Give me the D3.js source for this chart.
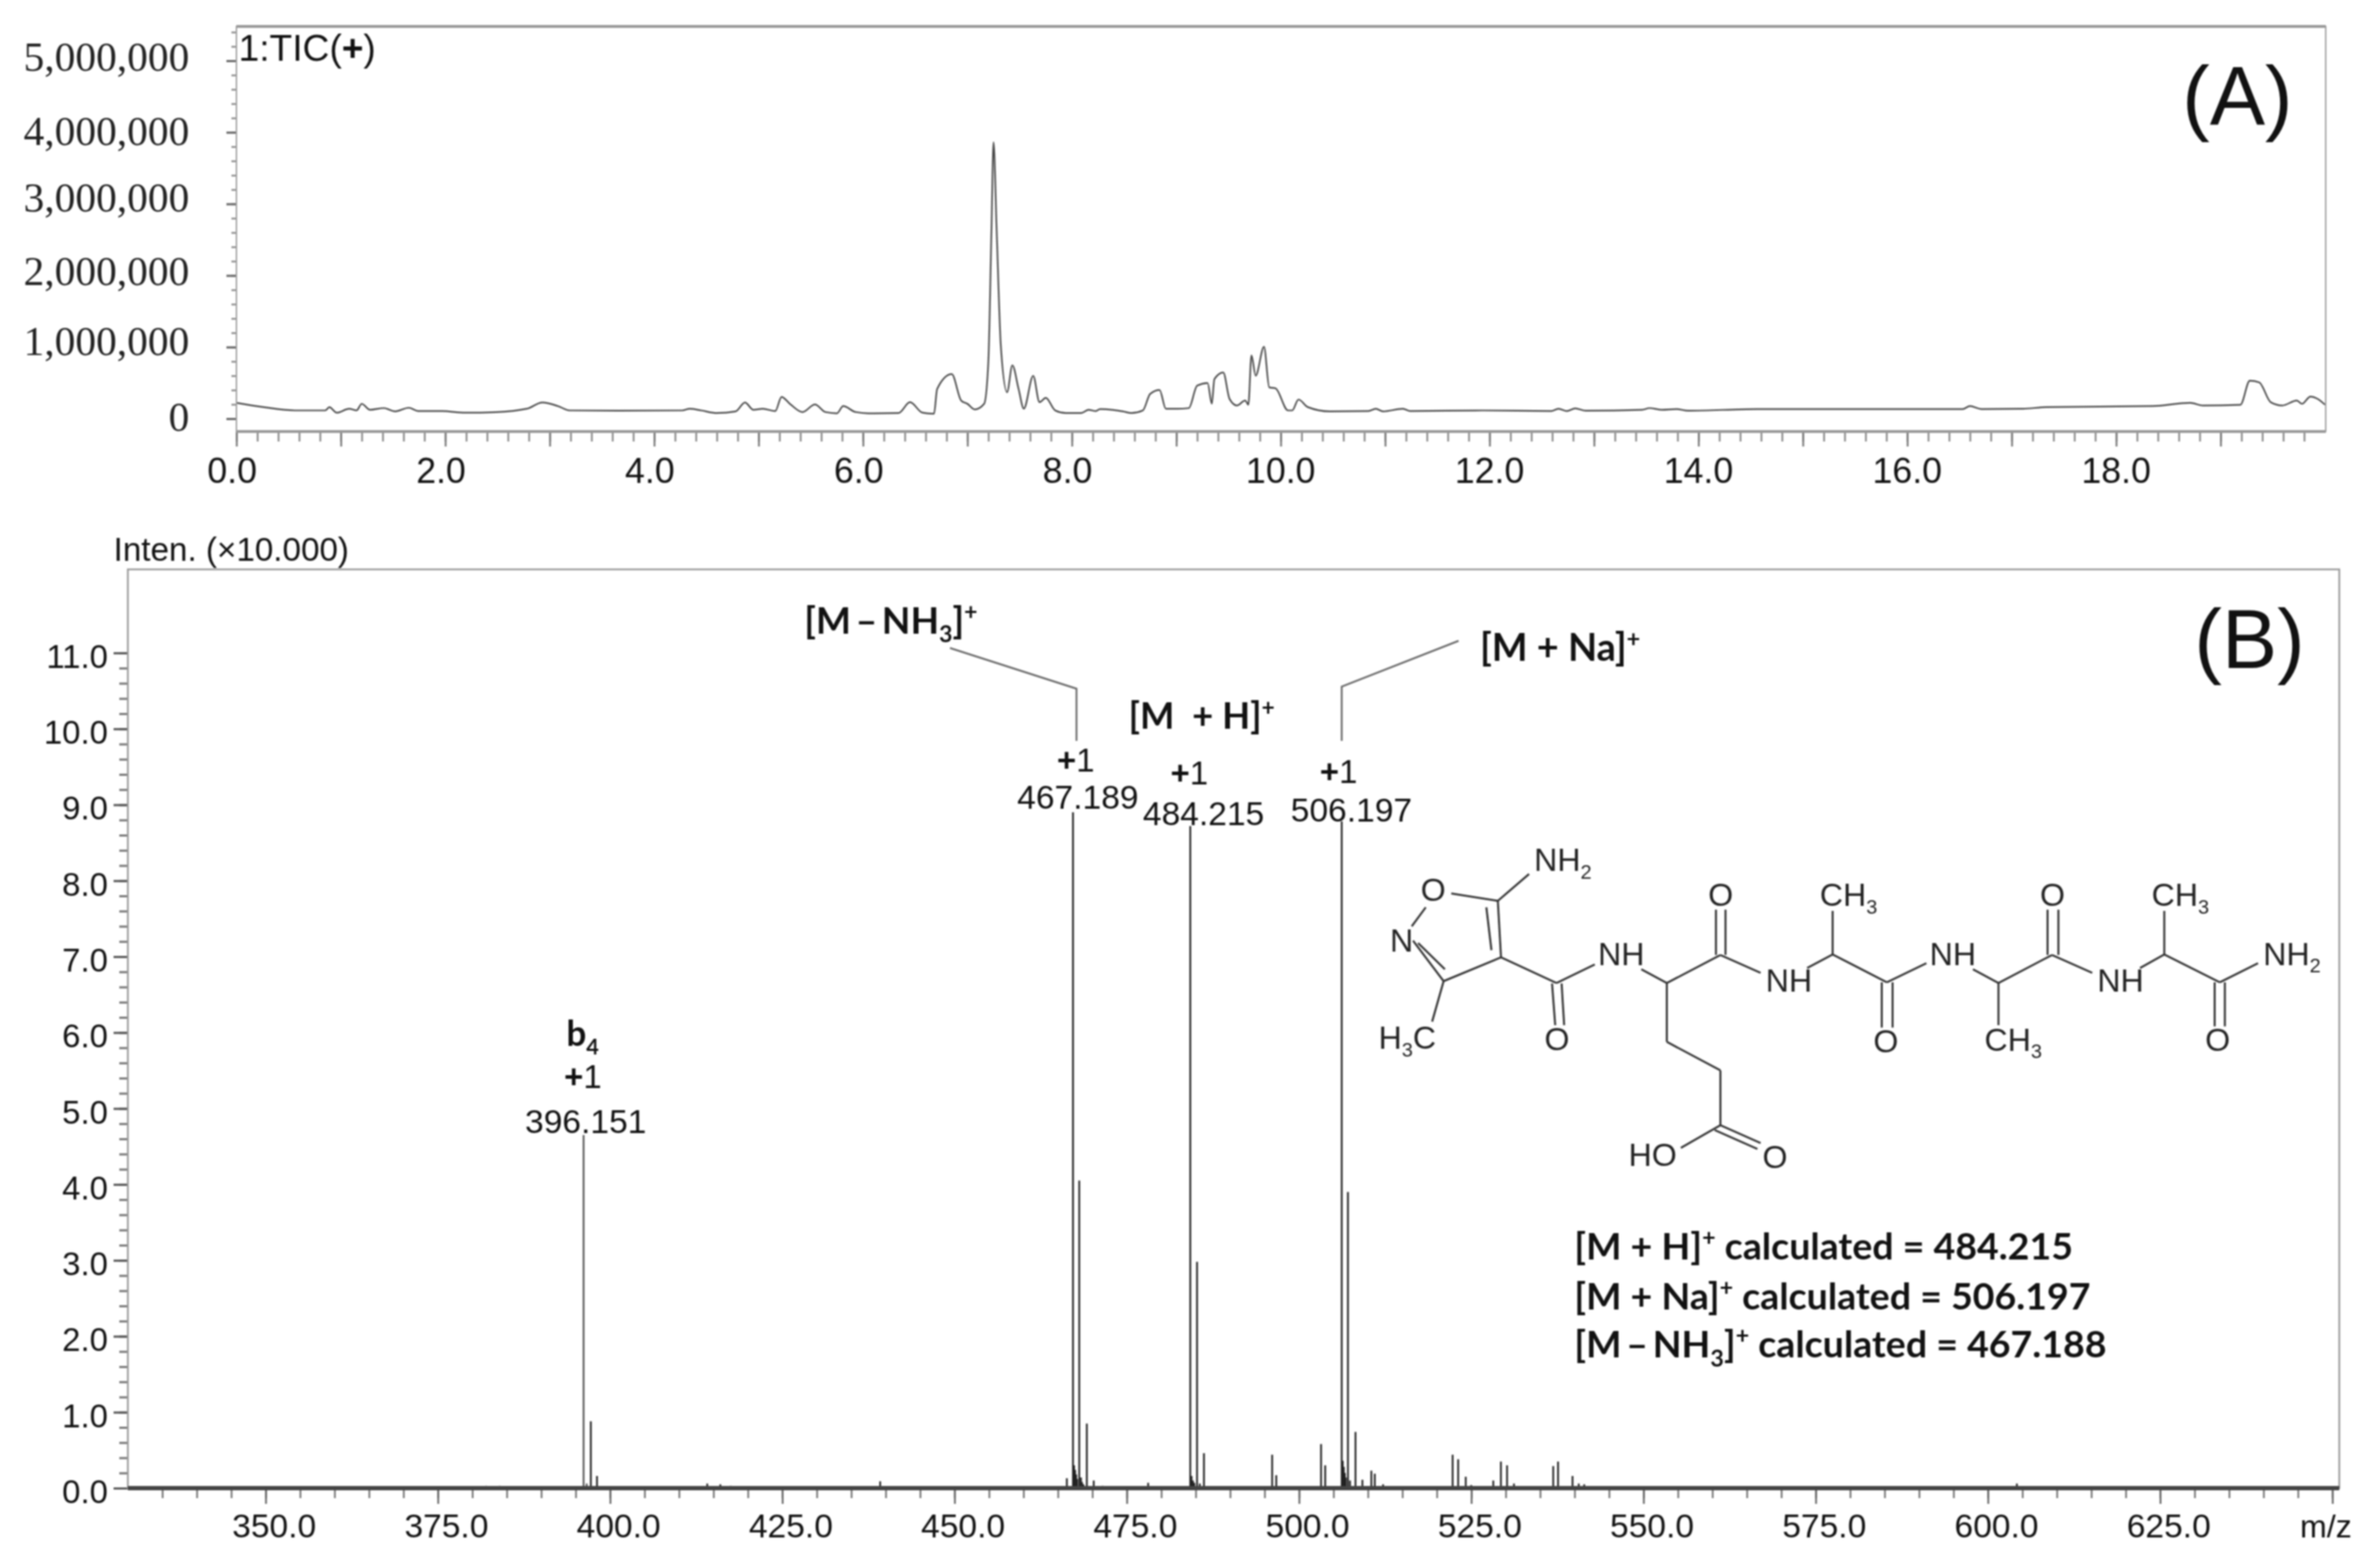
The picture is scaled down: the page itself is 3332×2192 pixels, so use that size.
<!DOCTYPE html>
<html><head><meta charset="utf-8">
<script src="https://cdnjs.cloudflare.com/ajax/libs/d3/7.8.5/d3.min.js"></script>
<style>html,body{margin:0;padding:0;background:#fff}svg{display:block}</style>
</head><body><svg id="c" width="3332" height="2192"></svg>
<script>
// ---- Panel A: total ion chromatogram ----
const ticTime = [0,.26,.56,.85,.89,.96,1.08,1.15,1.2,1.28,1.41,1.52,1.65,1.74,1.97,2.19,2.49,2.78,2.93,3.08,3.19,3.67,4.27,4.34,4.45,4.6,4.78,4.87,4.95,5.04,5.16,5.22,5.3,5.42,5.54,5.64,5.75,5.81,5.93,6.05,6.34,6.45,6.57,6.68,6.71,6.85,6.94,7,7.07,7.16,7.2,7.23,7.25,7.28,7.32,7.38,7.43,7.49,7.54,7.63,7.69,7.75,7.84,7.94,8.09,8.16,8.23,8.27,8.49,8.57,8.68,8.75,8.84,8.9,9.01,9.12,9.2,9.3,9.34,9.365,9.45,9.51,9.58,9.66,9.69,9.72,9.76,9.84,9.89,9.95,10.07,10.11,10.17,10.26,10.47,10.84,10.91,10.98,11.17,11.24,11.93,12.59,12.66,12.74,12.82,12.92,13.46,13.53,13.65,13.79,13.9,14.56,15.65,16.53,16.6,16.71,17.11,17.33,18.35,18.71,18.83,19.19,19.28,19.37,19.48,19.59,19.73,19.78,19.86,19.93,20];
const ticIntensity = [221,161,115,115,161,83,138,115,207,124,147,101,152,106,106,83,92,138,226,175,115,111,115,138,115,78,101,226,124,138,106,304,207,92,198,92,74,175,92,74,78,230,83,69,415,622,253,207,129,207,783,2627,3862,2627,1014,369,746,415,138,599,230,290,115,78,78,124,106,134,101,78,115,346,401,138,138,147,461,498,207,553,645,276,184,253,194,885,599,1005,438,424,115,115,267,161,101,106,138,101,138,106,115,106,138,106,143,111,124,147,124,134,111,134,134,134,175,134,138,161,175,221,184,194,530,507,230,184,253,207,309,276,194]; // thousands of counts
const ticYLabels = [0,1000000,2000000,3000000,4000000,5000000];
const ticYNudge = [0,-6,-4,-6,1,-3];
// ---- Panel B: mass spectrum ----
const peakMz = [396.151,397.2,398.1,396.6,414.1,416,417.5,439.2,466.3,467.189,467.35,467.5,467.65,467.8,468.1,468.35,468.5,468.7,469.2,470.2,471.5,478.1,484.215,484.4,484.6,484.8,485.2,485.6,486.2,496.1,496.7,503.2,503.8,506.197,506.35,506.5,506.65,506.8,507.1,507.4,508.2,509.2,510.5,511,512.2,522.3,523.1,524.2,525,528.2,529.3,530.2,531.2,536.9,537.6,539.7,540.6,541.4,604.2,410,345,384,382,458,462,556,572,592,613];
const peakHeight = [4.65,.88,.16,.06,.06,.05,.03,.09,.13,8.9,.3,.24,.18,.12,4.05,.14,.08,.05,.85,.1,.03,.07,8.72,.16,.1,.07,2.98,.06,.46,.44,.17,.58,.3,8.78,.36,.28,.2,.14,3.9,.1,.74,.11,.23,.19,.05,.44,.38,.15,.04,.1,.35,.3,.06,.29,.35,.16,.06,.05,.06,.02,.02,.03,.03,.02,.02,.02,.02,.02,.02];
const mzTicks = [350,375,400,425,450,475,500,525,550,575,600,625,650];
const mzLabels = ["350.0","375.0","400.0","425.0","450.0","475.0","500.0","525.0","550.0","575.0","600.0","625.0",""];
const intenMax = [0,1,2,3,4,5,6,7,8,9,10,11];

const svg = d3.select("#c");
const SANS = "'Liberation Sans',Arial,sans-serif", SERIF="'Liberation Serif',serif", CAL="Lato,'Open Sans',sans-serif";
const root = svg.append("g").style("filter","blur(0.8px)");
const GREY="#8a8a8a";

function txt(x,y,parts,o={}){
  const t=root.append("text").attr("x",x).attr("y",y)
    .attr("font-family",o.f||SANS).attr("font-size",o.s||47).attr("font-weight",o.w||400)
    .attr("fill",o.c||"#111").attr("text-anchor",o.a||"start");
  const size=o.s||47; let cur=0;
  (Array.isArray(parts)?parts:[parts]).forEach(p=>{
    const [str,kind]=Array.isArray(p)?p:[p,null];
    const target=kind==="sup"?-size*.36:kind==="sub"?size*.24:0;
    const sp=t.append("tspan").attr("dy",target-cur).attr("font-size",(kind==="sup"||kind==="sub")?size*.62:size).text(str);
    if(kind==="bold") sp.attr("font-weight",700);
    cur=target;
  });
  return t;
}

// ======= Panel A =======
const xA=d3.scaleLinear().domain([0,20]).range([331,3255]);
const yA=d3.scaleLinear().domain([-179600,5479000]).range([604,37]);
const styleAxis=(g,c=GREY,w=2.5)=>{g.select(".domain").remove();g.selectAll("line").attr("stroke",c).attr("stroke-width",w);};

root.append("g").attr("transform","translate(0,604)")
  .call(d3.axisBottom(xA).tickValues(d3.range(0,100).map(i=>i*.2).filter(v=>v<=19.999)).tickSize(14).tickFormat(""))
  .call(g=>styleAxis(g));
root.append("g").attr("transform","translate(0,604)")
  .call(d3.axisBottom(xA).tickValues(d3.range(0,20)).tickSize(21).tickFormat(""))
  .call(g=>styleAxis(g,"#777"));
d3.range(0,20,2).forEach(v=>txt(xA(v)+(v<10?-6:0),676,v.toFixed(1),{s:50,a:"middle"}));

root.append("g").attr("transform","translate(331,0)")
  .call(d3.axisLeft(yA).tickValues(d3.range(0,28).map(i=>i*200000)).tickSize(7).tickFormat(""))
  .call(g=>styleAxis(g));
root.append("g").attr("transform","translate(331,0)")
  .call(d3.axisLeft(yA).tickValues(ticYLabels).tickSize(14).tickFormat(""))
  .call(g=>styleAxis(g,"#666",3));
ticYLabels.forEach((v,i)=>txt(265,yA(v)+17+ticYNudge[i],d3.format(",")(v),{f:SERIF,s:58,a:"end",c:"#222"}));

const lineA=d3.line().x(d=>xA(d.t)).y(d=>yA(d.v*1000)).curve(d3.curveMonotoneX);
root.append("path").datum(ticTime.map((t,i)=>({t,v:ticIntensity[i]})))
  .attr("d",lineA).attr("fill","none").attr("stroke","#444").attr("stroke-width",2.2);

root.append("rect").attr("x",331).attr("y",37).attr("width",2925).attr("height",567)
  .attr("fill","none").attr("stroke","#a0a0a0").attr("stroke-width",2);
root.append("line").attr("x1",331).attr("x2",3256).attr("y1",37).attr("y2",37).attr("stroke","#999").attr("stroke-width",4);
root.append("line").attr("x1",331).attr("x2",3256).attr("y1",604).attr("y2",604).attr("stroke","#999").attr("stroke-width",4);

txt(334,85,["1:TIC(",["+","bold"],")"],{s:52});
txt(3055,175,"(A)",{s:116,c:"#111"});

// ======= Panel B =======
const xB=d3.scaleLinear().domain([330,651]).range([179,3275]);
const yB=d3.scaleLinear().domain([0,12.1]).range([2083,797]);

root.append("g").attr("transform","translate(0,2083)")
  .call(d3.axisBottom(xB).tickValues(d3.range(335,651,5)).tickSize(14).tickFormat(""))
  .call(g=>styleAxis(g,"#777"));
root.append("g").attr("transform","translate(0,2083)")
  .call(d3.axisBottom(xB).tickValues(mzTicks).tickSize(22).tickFormat(""))
  .call(g=>styleAxis(g,"#666"));
mzTicks.forEach((v,i)=>{ if(mzLabels[i]) txt(xB(v)+12,2152,mzLabels[i],{s:47,a:"middle"}); });
txt(3220,2152,"m/z",{s:45});

root.append("g").attr("transform","translate(179,0)")
  .call(d3.axisLeft(yB).tickValues(d3.range(0,56).map(i=>i*.2)).tickSize(12).tickFormat(""))
  .call(g=>styleAxis(g,"#777",3));
root.append("g").attr("transform","translate(179,0)")
  .call(d3.axisLeft(yB).tickValues(intenMax).tickSize(20).tickFormat(""))
  .call(g=>styleAxis(g,"#555",3));
intenMax.forEach(v=>txt(151,yB(v)+21,v.toFixed(1),{s:46,a:"end"}));
txt(159,785,"Inten. (×10.000)",{s:46.5});

root.append("rect").attr("x",179).attr("y",797).attr("width",3096).attr("height",1286)
  .attr("fill","none").attr("stroke","#9a9a9a").attr("stroke-width",2.5);

root.selectAll(".peak").data(peakMz.map((m,i)=>({m,h:peakHeight[i]}))).join("line")
  .attr("x1",d=>xB(d.m)).attr("x2",d=>xB(d.m)).attr("y1",yB(0)).attr("y2",d=>yB(d.h))
  .attr("stroke",d=>d.m<397?"#555":"#222").attr("stroke-width",2.5);
root.append("line").attr("x1",179).attr("x2",3275).attr("y1",2083).attr("y2",2083).attr("stroke","#444").attr("stroke-width",6);

// annotations anchored to the peak positions
const leader=(pts)=>root.append("path").attr("d",d3.line()(pts)).attr("fill","none").attr("stroke","#666").attr("stroke-width",2.5);
leader([[1330,907],[xB(467.7),964],[xB(467.7),1037]]);
leader([[2042,897],[xB(506.197),961],[xB(506.197),1037]]);

const B={f:CAL,w:700,c:"#111"};
txt(1126,887,["[M\u2009–\u2009NH",["3","sub"],"]",["+","sup"]],{...B,s:52});
txt(1580,1020,["[M\u00a0\u00a0+ H]",["+","sup"]],{...B,s:51});
txt(2072,925,["[M + Na]",["+","sup"]],{...B,s:53});
txt(793,1464,["b",["4","sub"]],{...B,s:49});

const PLUS=[["+","bold"],"1"];
txt(816,1523,PLUS,{s:46,a:"middle"});
txt(820,1586,"396.151",{s:47,a:"middle"});
txt(1506,1080,PLUS,{s:46,a:"middle"});
txt(1509,1132,"467.189",{s:47,a:"middle"});
txt(1665,1098,PLUS,{s:46,a:"middle"});
txt(1685,1155,"484.215",{s:47,a:"middle"});
txt(1874,1096,PLUS,{s:46,a:"middle"});
txt(1892,1150,"506.197",{s:47,a:"middle"});

txt(2204,1763,["[M + H]",["+","sup"]," calculated = 484.215"],{...B,s:52.5});
txt(2204,1833,["[M + Na]",["+","sup"]," calculated = 506.197"],{...B,s:52.5});
txt(2204,1900,["[M\u2009–\u2009NH",["3","sub"],"]",["+","sup"]," calculated = 467.188"],{...B,s:52.5});
txt(3072,935,"(B)",{s:116,c:"#111"});

// molecular structure
const mx=z=>1880+z/1.12, my=z=>1160+z/3;
const bonds=[[170,272,243,303],[130,330,108,410],[243,303,248,540],[225,330,233,510],[248,540,158,640],[158,640,110,470],[160,590,118,480],[243,303,292,190],[158,640,140,810],[248,540,335,648],[335,648,395,570],[328,650,333,825],[343,650,347,825],[468,590,508,648],[508,648,592,530],[592,530,655,605],[585,340,585,530],[600,340,600,530],[508,648,508,895],[508,895,592,1015],[592,1015,592,1245],[592,1245,530,1340],[592,1245,655,1320],[583,1265,650,1345],[728,585,768,528],[768,528,768,345],[768,528,853,645],[853,645,915,565],[845,645,845,835],[862,645,862,835],[988,590,1028,648],[1028,648,1112,530],[1028,648,1028,825],[1112,530,1175,605],[1105,340,1105,530],[1122,340,1122,530],[1250,585,1288,528],[1288,528,1288,345],[1288,528,1375,645],[1375,645,1435,565],[1367,645,1367,830],[1383,645,1383,830]];
root.append("g").selectAll("line").data(bonds).join("line")
  .attr("x1",d=>mx(d[0])).attr("y1",d=>my(d[1])).attr("x2",d=>mx(d[2])).attr("y2",d=>my(d[3]))
  .attr("stroke","#333").attr("stroke-width",2.8);
const atoms=[
 [300,178,["NH",["2","sub"]]],[122,303,["O"]],[74,515,["N"]],[56,925,["H",["3","sub"],"C"]],[316,930,["O"]],
 [400,573,["NH"]],[573,325,["O"]],[748,325,["CH",["3","sub"]]],[663,685,["NH"]],[832,938,["O"]],
 [920,572,["NH"]],[1006,932,["CH",["3","sub"]]],[1093,325,["O"]],[1268,325,["CH",["3","sub"]]],[1183,685,["NH"]],
 [1443,572,["NH",["2","sub"]]],[1352,932,["O"]],[448,1415,["HO"]],[658,1425,["O"]]];
atoms.forEach(a=>txt(mx(a[0]),my(a[1]),a[2],{s:45,c:"#222"}));
</script></body></html>
